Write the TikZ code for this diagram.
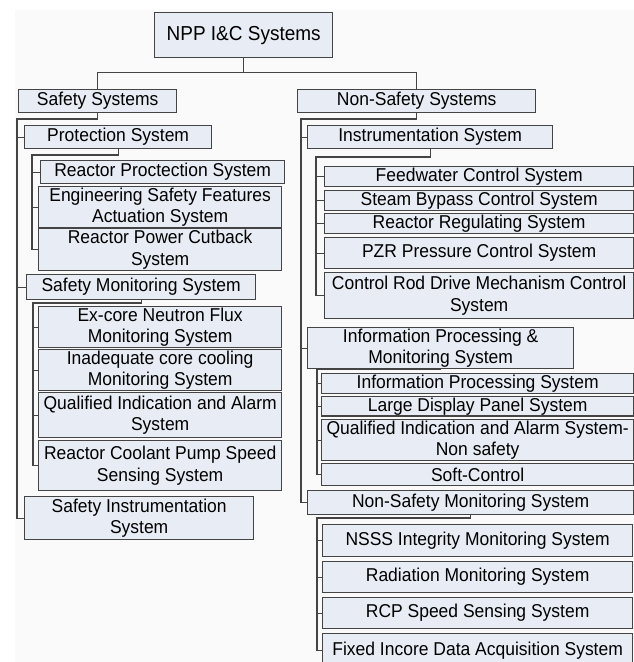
\documentclass[tikz,border=0pt]{standalone}
\usepackage{fontspec}
\setmainfont[FakeStretch=0.94]{Liberation Sans}
\usetikzlibrary{positioning}
\definecolor{boxfill}{RGB}{232,236,244}
\definecolor{boxline}{RGB}{68,68,68}
\definecolor{pagegray}{RGB}{250,250,250}

\begin{document}
\begin{tikzpicture}[x=1pt,y=-1pt,
    sysbox/.style 2 args={draw=boxline, fill=boxfill, line width=1.3pt, anchor=north west,
        align=center, inner sep=1pt, minimum width=#1pt, minimum height=#2pt,
        font=\fontsize{18.6}{21.5}\selectfont},
    link/.style={draw=boxline, line width=1.1pt}]

\useasboundingbox (0,0) rectangle (634,662);
\fill[pagegray] (15,10) rectangle (634,662);

% Top of the tree
\node[sysbox={178}{45}, font=\fontsize{20.2}{23}\selectfont] (root) at (154,12) {NPP I\&C Systems};
\node[sysbox={158}{23}] (ss) at (18,89) {Safety Systems};
\node[sysbox={238}{23}] (nss) at (297,89) {Non-Safety Systems};

\draw[link] (root.south) -- ++(0,14) -| (ss.north);
\draw[link] (root.south) -- ++(0,14) -| (nss.north);

% Safety Systems
\node[sysbox={187}{23}] (ps) at (24,125) {Protection System};
\node[sysbox={244}{23}] (rps) at (40,160) {Reactor Proctection System};
\node[sysbox={243}{40}] (esf) at (38,186) {Engineering Safety Features\\Actuation System};
\node[sysbox={243}{42}] (rpc) at (38,228) {Reactor Power Cutback\\System};
\node[sysbox={229}{25}] (sms) at (26,274) {Safety Monitoring System};
\node[sysbox={243}{41}] (exc) at (38,306) {Ex-core Neutron Flux\\Monitoring System};
\node[sysbox={243}{40}] (icc) at (38,349) {Inadequate core cooling\\Monitoring System};
\node[sysbox={243}{45}] (qia) at (38,392) {Qualified Indication and Alarm\\System};
\node[sysbox={243}{50}] (rcp) at (38,440) {Reactor Coolant Pump Speed\\Sensing System};
\node[sysbox={229}{43}] (sis) at (24,496) {Safety Instrumentation\\System};

% Safety Systems connectors
\coordinate (ssbus) at (17,119);
\draw[link] (ss.south) |- (ssbus) |- (sis.west);
\foreach \c in {ps,sms}
    \draw[link] (ssbus |- \c.west) -- (\c.west);

\coordinate (psbus) at (32,155);
\draw[link] (ps.south) |- (psbus) |- (rpc.west);
\foreach \c in {rps,esf}
    \draw[link] (psbus |- \c.west) -- (\c.west);

\coordinate (smsbus) at (33,303);
\draw[link] (sms.south) |- (smsbus) |- (rcp.west);
\foreach \c in {exc,icc,qia}
    \draw[link] (smsbus |- \c.west) -- (\c.west);

% Non-Safety Systems
\node[sysbox={245}{23}] (is) at (307,125) {Instrumentation System};
\node[sysbox={309}{20}] (fw) at (324,166) {Feedwater Control System};
\node[sysbox={309}{20}] (sb) at (324,190) {Steam Bypass Control System};
\node[sysbox={309}{20}] (rr) at (324,213) {Reactor Regulating System};
\node[sysbox={309}{31}] (pzr) at (324,237) {PZR Pressure Control System};
\node[sysbox={309}{46}] (crd) at (324,272) {Control Rod Drive Mechanism Control\\System};
\node[sysbox={266}{39}] (ipm) at (307,327) {Information Processing \&\\Monitoring System};
\node[sysbox={312}{20}] (ips) at (321,373) {Information Processing System};
\node[sysbox={312}{19}] (ldp) at (321,396) {Large Display Panel System};
\node[sysbox={312}{38}] (qns) at (321,419) {Qualified Indication and Alarm System-\\Non safety};
\node[sysbox={312}{22}] (sc) at (321,463) {Soft-Control};
\node[sysbox={326}{24}] (nsm) at (307,490) {Non-Safety Monitoring System};
\node[sysbox={310}{32}] (nsi) at (322,524) {NSSS Integrity Monitoring System};
\node[sysbox={310}{31}] (rad) at (322,561) {Radiation Monitoring System};
\node[sysbox={310}{31}] (rcs) at (322,597) {RCP Speed Sensing System};
\node[sysbox={310}{34}] (fix) at (322,633) {Fixed Incore Data Acquisition System};

% Non-Safety Systems connectors
\coordinate (nssbus) at (301,119);
\draw[link] (nss.south) |- (nssbus) |- (nsm.west);
\foreach \c in {is,ipm}
    \draw[link] (nssbus |- \c.west) -- (\c.west);

\coordinate (isbus) at (316,157);
\draw[link] (is.south) |- (isbus) |- (crd.west);
\foreach \c in {fw,sb,rr,pzr}
    \draw[link] (isbus |- \c.west) -- (\c.west);

\coordinate (ipmbus) at (317,369);
\draw[link] (ipm.south) |- (ipmbus) |- (sc.west);
\foreach \c in {ips,ldp,qns}
    \draw[link] (ipmbus |- \c.west) -- (\c.west);

\coordinate (nsmbus) at (317,518);
\draw[link] (nsm.south) |- (nsmbus) |- (fix.west);
\foreach \c in {nsi,rad,rcs}
    \draw[link] (nsmbus |- \c.west) -- (\c.west);

\end{tikzpicture}
\end{document}
